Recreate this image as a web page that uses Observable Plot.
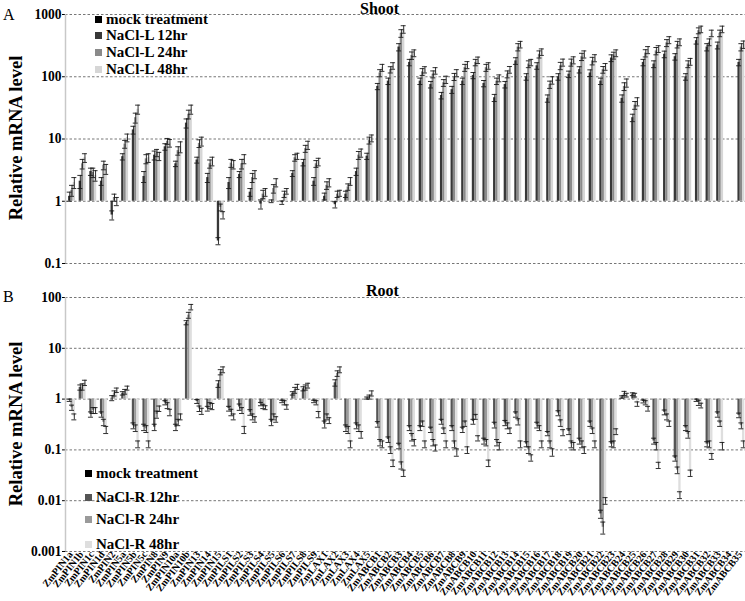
<!DOCTYPE html>
<html><head><meta charset="utf-8">
<script src="https://cdn.jsdelivr.net/npm/d3@7"></script>
<script src="https://cdn.jsdelivr.net/npm/@observablehq/plot@0.6"></script>
<style>
body{margin:0;background:#fff;}
#wrap{position:relative;width:745px;height:601px;overflow:hidden;}
#wrap svg{display:block;}
.abs{position:absolute;white-space:nowrap;color:#000;line-height:1;}
.lg{position:absolute;font-weight:bold;line-height:1;white-space:nowrap;}
.sw{display:inline-block;width:7px;height:7px;margin-right:4px;vertical-align:1px;}
.ytitle{position:absolute;font-weight:bold;white-space:nowrap;line-height:1;transform:translate(-50%,-50%) rotate(-90deg);}
</style></head><body><div id="wrap"></div>
<script>
const genes = ["ZmPIN1a","ZmPIN1b","ZmPIN1c","ZmPIN1d","ZmPIN2","ZmPIN5a","ZmPIN5b","ZmPIN5c","ZmPIN8","ZmPIN9","ZmPIN10a","ZmPIN10b","ZmPIN13","ZmPIN14","ZmPIN15",
"ZmPILS1","ZmPILS2","ZmPILS3","ZmPILS4","ZmPILS5","ZmPILS6","ZmPILS7","ZmPILS8","ZmPILS9",
"ZmLAX1","ZmLAX2","ZmLAX3","ZmLAX4","ZmLAX5",
"ZmABCB1","ZmABCB2","ZmABCB3","ZmABCB4","ZmABCB5","ZmABCB6","ZmABCB7","ZmABCB8","ZmABCB9","ZmABCB10","ZmABCB11","ZmABCB12","ZmABCB13","ZmABCB14","ZmABCB15","ZmABCB16","ZmABCB17","ZmABCB18","ZmABCB19","ZmABCB20","ZmABCB21","ZmABCB22","ZmABCB23","ZmABCB24","ZmABCB25","ZmABCB26","ZmABCB27","ZmABCB28","ZmABCB29","ZmABCB30","ZmABCB31","ZmABCB32","ZmABCB33","ZmABCB34","ZmABCB35"];

const shootSeries = ["mock treatment","NaCl-L 12hr","NaCl-L 24hr","NaCl-L 48hr"];
const rootSeries = ["mock treatment","NaCl-R 12hr","NaCl-R 24hr","NaCl-R 48hr"];
const shootTicks = [0.1,1,10,100,1000];
const rootTicks = [0.001,0.01,0.1,1,10,100];

// Shoot values (mock = 1)
const shoot12 = [1.2,2.1,3.0,2.1,0.6,5.2,14,2.5,5.5,7.5,4.0,18,4.6,2.4,0.23,2.0,2.7,1.4,0.9,1.0,0.95,2.8,4.2,2.1,1.2,0.88,1.3,3.0,5.3,
70,85,300,170,85,75,50,62,85,105,78,46,75,180,100,150,45,100,110,130,115,85,200,45,22,170,160,230,210,100,380,300,320,null,170];
const shoot24 = [1.5,4.0,2.9,3.8,1.15,8.3,22,4.8,6.0,9.2,6.5,25,8.5,4.0,0.8,4.1,4.0,2.4,1.3,1.6,1.3,5.0,7.0,4.0,1.8,1.3,1.7,5.5,9.5,
115,130,500,220,120,110,80,100,140,170,140,85,110,300,160,230,75,150,170,210,180,130,220,70,35,240,260,350,330,160,550,360,500,null,300];
const shoot48 = [2.0,5.0,2.6,3.3,1.0,10.5,30,5.0,5.3,8.6,7.5,30,9.2,4.4,0.6,3.9,4.8,2.7,1.4,2.0,1.45,5.3,8.0,4.3,2.0,1.35,2.1,6.0,10.3,
140,150,580,240,130,125,90,115,155,185,150,95,130,330,170,250,88,170,185,230,200,145,240,80,40,270,280,390,360,175,580,500,580,null,330];
const shootErr12 = [0.2,0.5,0.4,0.3,0.1,0.6,2,0.5,0.9,0.9,0.4,3,0.5,0.4,0.03,0.4,0.3,0.2,0.15,0.05,0.06,0.3,0.5,0.3,0.15,0.1,0.15,0.4,0.6,
8,10,40,20,10,9,6,8,10,12,9,6,9,22,12,18,6,12,13,15,14,10,25,6,3,20,20,28,25,12,45,40,40,null,20];
const shootErr24 = [0.3,0.7,0.5,0.6,0.15,1.2,4,0.8,0.8,1.0,1.0,4,1.2,0.6,0.1,0.6,0.7,0.4,0.2,0.25,0.15,0.6,0.9,0.5,0.25,0.15,0.2,0.8,1.2,
15,15,70,30,15,14,10,13,18,20,18,10,14,40,20,30,10,20,22,28,25,16,28,10,5,32,35,45,40,20,60,45,60,null,40];
const shootErr48 = [0.4,0.8,0.5,0.6,0.15,1.5,5,0.8,0.8,1.2,1.5,5,1.5,0.7,0.08,0.6,0.8,0.4,0.2,0.3,0.15,0.6,1.2,0.6,0.3,0.15,0.3,0.9,1.3,
18,18,80,30,15,15,12,15,20,22,18,12,16,40,20,30,12,22,24,30,26,18,30,12,6,35,35,50,45,22,70,60,70,null,45];

// Root values (mock = 1)
const root12 = [0.95,1.7,0.5,0.5,1.05,1.3,0.3,0.28,0.28,0.85,0.28,32,0.9,0.65,2.0,0.65,0.7,0.55,0.8,0.35,0.9,1.3,1.6,0.9,0.32,2.1,0.27,0.3,1.05,
0.32,0.16,0.12,0.27,0.27,0.25,0.36,0.27,0.25,0.36,0.15,0.31,0.34,0.5,0.13,0.31,0.21,0.53,0.23,0.15,0.33,0.0055,0.13,1.1,1.25,0.9,0.15,0.55,0.068,0.27,0.95,0.13,0.5,null,0.48];
const root24 = [0.68,1.75,0.6,0.35,1.3,1.4,0.27,0.26,0.5,0.75,0.35,45,0.65,0.75,3.4,0.55,0.6,0.45,0.72,0.45,0.85,1.5,1.7,0.85,0.45,3.2,0.25,0.27,1.1,
0.14,0.1,0.05,0.18,0.33,0.14,0.24,0.13,0.33,0.45,0.14,0.14,0.3,0.36,0.1,0.27,0.13,0.34,0.13,0.13,0.24,0.003,0.13,1.3,1.2,0.85,0.12,0.45,0.04,0.2,0.85,0.13,0.33,null,0.3];
const root48 = [0.45,2.1,0.6,0.25,1.5,1.65,0.13,0.13,0.65,0.55,0.45,65,0.58,0.72,3.8,0.45,0.25,0.4,0.68,0.4,0.7,1.75,1.85,0.5,0.38,3.8,0.13,0.2,1.3,
0.13,0.055,0.035,0.14,0.13,0.11,0.13,0.09,0.1,0.17,0.055,0.12,0.24,0.13,0.07,0.13,0.09,0.22,0.12,0.1,0.13,0.01,0.23,1.2,0.8,0.65,0.05,0.33,0.013,0.035,0.75,0.075,0.12,null,0.13];
const rootErr12 = [0.05,0.2,0.06,0.06,0.12,0.1,0.04,0.04,0.04,0.08,0.04,3,0.08,0.07,0.3,0.07,0.1,0.07,0.06,0.05,0.05,0.1,0.15,0.05,0.05,0.3,0.04,0.04,0.05,
0.04,0.02,0.015,0.03,0.03,0.03,0.04,0.03,0.03,0.04,0.02,0.04,0.04,0.06,0.015,0.04,0.02,0.06,0.03,0.02,0.04,0.001,0.015,0.06,0.08,0.06,0.02,0.06,0.008,0.03,0.05,0.015,0.06,null,0.05];
const rootErr24 = [0.08,0.25,0.08,0.05,0.15,0.15,0.04,0.04,0.08,0.1,0.05,6,0.08,0.1,0.4,0.08,0.08,0.06,0.07,0.06,0.08,0.2,0.2,0.08,0.06,0.4,0.04,0.04,0.1,
0.02,0.015,0.008,0.03,0.04,0.02,0.03,0.02,0.04,0.05,0.02,0.02,0.04,0.05,0.015,0.03,0.02,0.05,0.02,0.02,0.03,0.0008,0.02,0.12,0.1,0.08,0.02,0.06,0.006,0.03,0.1,0.02,0.04,null,0.04];
const rootErr48 = [0.06,0.25,0.08,0.04,0.15,0.15,0.02,0.02,0.08,0.08,0.06,8,0.08,0.1,0.5,0.06,0.04,0.05,0.06,0.05,0.07,0.2,0.2,0.07,0.05,0.5,0.02,0.03,0.15,
0.02,0.008,0.005,0.02,0.02,0.015,0.02,0.015,0.015,0.02,0.008,0.02,0.03,0.02,0.01,0.02,0.015,0.03,0.02,0.015,0.02,0.0015,0.03,0.1,0.08,0.07,0.007,0.04,0.002,0.005,0.08,0.01,0.02,null,0.02];

// ---- font selection (serif, Times-like metrics) ----
const ctx = document.createElement("canvas").getContext("2d");
function textW(font, s) { ctx.font = font; return ctx.measureText(s).width; }
const probe = "mock treatment 0123456789 ZmABCB";
const monoW = textW("bold 100px monospace", probe);
const candidates = ["Liberation Serif", "Times New Roman", "Tinos", "Nimbus Roman", "Noto Serif", "DejaVu Serif"];
let fam = "serif";
for (const f of candidates) {
  if (Math.abs(textW(`bold 100px "${f}", monospace`, probe) - monoW) > 0.5) { fam = f; break; }
}
const FONT = `"${fam}", serif`;
const em = textW(`bold 100px ${FONT}`, "mock treatment") / 100;
const K = Math.min(1.05, Math.max(0.7, 6.803 / em));
const fs = px => (px * K).toFixed(2) + "px";

function buildRows(series, vals, errs) {
  const rows = [];
  genes.forEach((g, i) => {
    rows.push({gene: g, series: series[0], value: 1, err: 0, base: 1});
    for (let k = 0; k < 3; k++) {
      const v = vals[k][i];
      if (v == null) continue;
      const e = errs[k][i] || 0;
      rows.push({gene: g, series: series[k + 1], value: v, err: e, base: 1,
        lo: Math.max(v - e, v * 0.2), hi: v + e});
    }
  });
  return rows;
}

const W = 745, ML = 65, MR = 0;
const bw = (W - ML - MR) / genes.length;
const barW = 2.3;
const offs = [-3.4, -1.1, 1.2, 3.5];

function panel({rows, series, colors, domain, ticks, height, marginTop, marginBottom, showX}) {
  const inset = (bw - barW) / 2;
  const capInset = (bw - 5) / 2;
  const marks = [
    Plot.ruleY(ticks, {stroke: "#666", strokeDasharray: "2.5,2", strokeWidth: 0.9}),
    Plot.ruleX([genes[0]], {dx: -bw / 2, stroke: "#c8c8c8", strokeWidth: 1.5})
  ];
  series.forEach((s, k) => {
    const d = rows.filter(r => r.series === s);
    marks.push(Plot.barY(d, {x: "gene", y1: "base", y2: "value", fill: colors[k], dx: offs[k], insetLeft: inset, insetRight: inset}));
  });
  series.forEach((s, k) => {
    if (k === 0) return;
    const d = rows.filter(r => r.series === s && r.err > 0);
    marks.push(Plot.ruleX(d, {x: "gene", y1: "lo", y2: "hi", dx: offs[k], stroke: "#1a1a1a", strokeWidth: 0.9}));
    marks.push(Plot.tickY(d, {x: "gene", y: "hi", dx: offs[k], insetLeft: capInset, insetRight: capInset, stroke: "#1a1a1a", strokeWidth: 0.9}));
    marks.push(Plot.tickY(d, {x: "gene", y: "lo", dx: offs[k], insetLeft: capInset, insetRight: capInset, stroke: "#1a1a1a", strokeWidth: 0.9}));
  });
  const svg = Plot.plot({
    width: W, height, marginLeft: ML, marginRight: MR, marginTop, marginBottom,
    style: {fontFamily: FONT, fontSize: fs(13.5), fontWeight: "bold", color: "#000", background: "#fff"},
    x: {type: "band", domain: genes, padding: 0, axis: showX ? "bottom" : null, tickSize: 0, tickPadding: 1, tickRotate: -52, label: null},
    y: {type: "log", domain, ticks, tickFormat: d => String(d), tickSize: 3, tickPadding: 1, label: null},
    marks
  });
  d3.select(svg).selectAll("text").attr("font-family", FONT).style("font-family", FONT).style("font-weight", "bold");
  return svg;
}

const wrap = document.getElementById("wrap");
wrap.style.fontFamily = FONT;

const shootRows = buildRows(shootSeries, [shoot12, shoot24, shoot48], [shootErr12, shootErr24, shootErr48]);
const rootRows = buildRows(rootSeries, [root12, root24, root48], [rootErr12, rootErr24, rootErr48]);

const shootColors = ["#000000", "#383838", "#8a8a8a", "#d6d6d6"];
const rootColors = ["#000000", "#555555", "#9a9a9a", "#dedede"];

const s1 = panel({rows: shootRows, series: shootSeries, colors: shootColors, domain: [0.1, 1000], ticks: shootTicks, height: 278, marginTop: 14, marginBottom: 15, showX: false});
const s2 = panel({rows: rootRows, series: rootSeries, colors: rootColors, domain: [0.001, 100], ticks: rootTicks, height: 323, marginTop: 19, marginBottom: 50, showX: true});
wrap.appendChild(s1);
wrap.appendChild(s2);

d3.select(s2).selectAll('g[aria-label^="x-axis"] text').style("font-size", fs(10));

function addDiv(cls, html, css) {
  const d = document.createElement("div");
  d.className = cls; d.innerHTML = html;
  Object.assign(d.style, {fontFamily: FONT}, css);
  wrap.appendChild(d);
  return d;
}
addDiv("abs", "A", {left: "3px", top: "7px", fontSize: fs(16)});
addDiv("abs", "B", {left: "3px", top: "289px", fontSize: fs(16)});
addDiv("abs", "Shoot", {left: "360px", top: "1px", fontSize: fs(16), fontWeight: "bold"});
addDiv("abs", "Root", {left: "366px", top: "283px", fontSize: fs(16), fontWeight: "bold"});
addDiv("ytitle", "Relative mRNA level", {left: "16px", top: "138px", fontSize: fs(18.5)});
addDiv("ytitle", "Relative mRNA level", {left: "16px", top: "424px", fontSize: fs(18.5)});

const shootLegY = [12, 28, 45, 62];
shootSeries.forEach((s, k) => {
  addDiv("lg", `<span class="sw" style="background:${shootColors[k]}"></span>${s}`, {left: "95px", top: shootLegY[k] + "px", fontSize: fs(15)});
});
const rootLegY = [466, 490, 512, 537];
rootSeries.forEach((s, k) => {
  addDiv("lg", `<span class="sw" style="background:${rootColors[k]}"></span>${s}`, {left: "85px", top: rootLegY[k] + "px", fontSize: fs(15)});
});
</script></body></html>
